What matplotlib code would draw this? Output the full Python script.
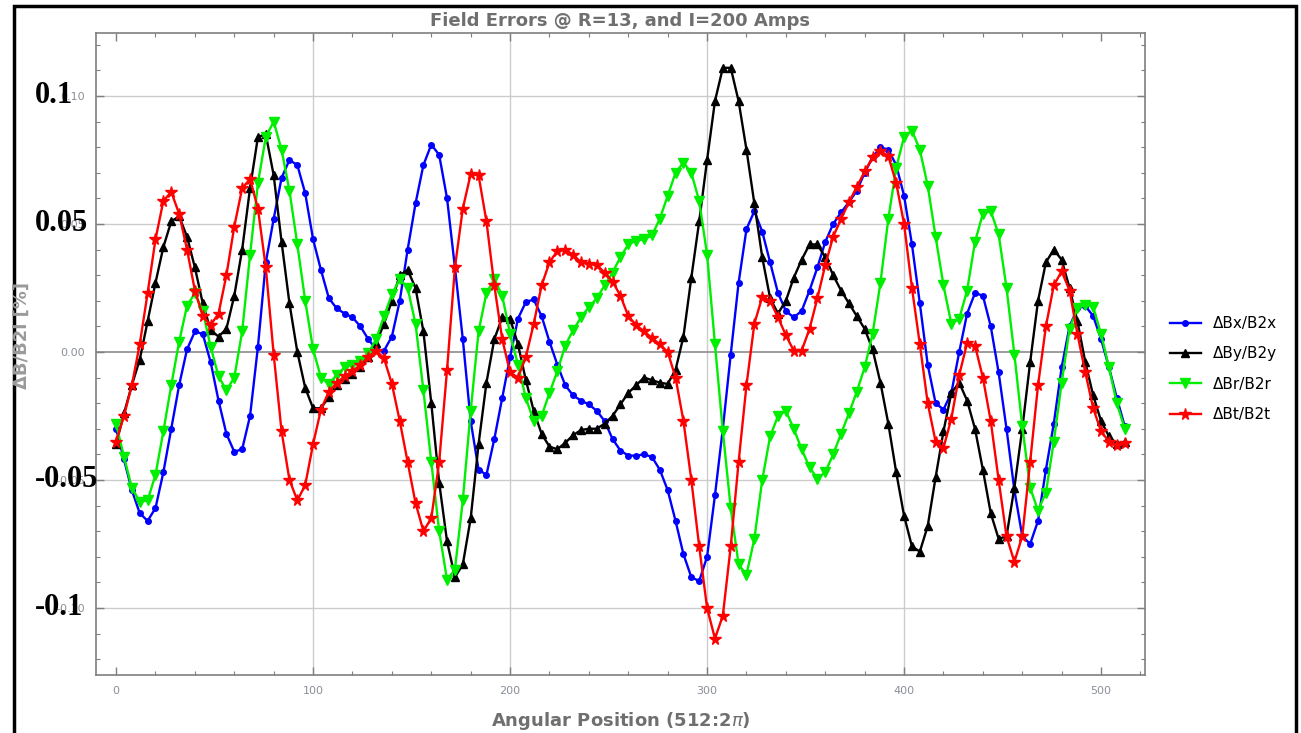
import numpy as np
import matplotlib.pyplot as plt
from matplotlib.patches import Rectangle
from matplotlib.ticker import MultipleLocator
from matplotlib.transforms import blended_transform_factory

# angular position samples (512 steps per turn), every 4th step
pos = np.arange(0, 513, 4)

# field errors in units of 0.01 %
dBx = [-3.0, -4.2, -5.4, -6.3, -6.6, -6.1, -4.7, -3.0,
       -1.3, 0.1, 0.8, 0.7, -0.4, -1.9, -3.2, -3.9,
       -3.8, -2.5, 0.2, 3.5, 5.2, 6.8, 7.5, 7.3,
       6.2, 4.4, 3.2, 2.1, 1.7, 1.5, 1.35, 1.0,
       0.5, 0.1, 0.05, 0.6, 2.0, 4.0, 5.8, 7.3,
       8.1, 7.7, 6.0, 3.3, 0.5, -2.7, -4.6, -4.8,
       -3.4, -1.8, -0.2, 1.3, 1.95, 2.05, 1.4, 0.4,
       -0.5, -1.3, -1.7, -1.9, -2.05, -2.3, -2.7, -3.4,
       -3.85, -4.05, -4.05, -4.0, -4.1, -4.6, -5.4, -6.6,
       -7.9, -8.8, -8.95, -8.0, -5.6, -3.0, -0.1, 2.7,
       4.8, 5.5, 4.7, 3.5, 2.3, 1.6, 1.35, 1.6,
       2.4, 3.3, 4.3, 5.0, 5.45, 5.85, 6.3, 7.0,
       7.6, 8.0, 7.9, 7.3, 6.1, 4.2, 1.9, -0.5,
       -2.0, -2.25, -1.6, 0.0, 1.5, 2.3, 2.2, 1.0,
       -0.8, -3.0, -5.4, -7.2, -7.5, -6.6, -4.6, -2.8,
       -0.6, 1.0, 1.7, 1.8, 1.4, 0.5, -0.6, -1.8,
       -2.9]

dBy = [-3.6, -2.4, -1.3, -0.3, 1.2, 2.7, 4.1, 5.1,
       5.3, 4.5, 3.3, 1.9, 0.85, 0.6, 0.9, 2.2,
       4.0, 6.4, 8.4, 8.5, 6.9, 4.3, 1.9, 0.0,
       -1.4, -2.2, -2.2, -1.75, -1.3, -1.05, -0.85, -0.6,
       -0.2, 0.35, 1.1, 2.0, 3.0, 3.2, 2.5, 0.8,
       -2.0, -5.1, -7.4, -8.8, -8.3, -6.5, -3.6, -1.2,
       0.5, 1.35, 1.3, 0.3, -1.1, -2.3, -3.2, -3.7,
       -3.8, -3.55, -3.25, -3.05, -3.0, -3.0, -2.8, -2.5,
       -2.05, -1.6, -1.3, -1.0, -1.1, -1.2, -1.25, -0.7,
       0.6, 2.9, 5.1, 7.5, 9.8, 11.1, 11.1, 9.8,
       7.9, 5.8, 3.7, 2.1, 1.5, 2.0, 2.9, 3.6,
       4.2, 4.2, 3.7, 3.0, 2.4, 1.9, 1.4, 0.9,
       0.1, -1.2, -2.8, -4.7, -6.4, -7.6, -7.8, -6.8,
       -4.9, -3.1, -1.6, -1.2, -1.9, -3.0, -4.6, -6.3,
       -7.3, -7.2, -5.3, -3.0, -0.4, 2.0, 3.5, 4.0,
       3.6, 2.5, 1.2, -0.4, -1.7, -2.7, -3.3, -3.6,
       -3.5]

dBr = [-2.8, -4.1, -5.3, -5.85, -5.8, -4.8, -3.1, -1.3,
       0.4, 1.8, 2.3, 1.6, 0.2, -0.95, -1.5, -1.0,
       0.8, 3.8, 6.6, 8.4, 9.0, 7.9, 6.3, 4.2,
       2.0, 0.1, -1.0, -1.25, -0.9, -0.6, -0.5, -0.35,
       -0.05, 0.5, 1.4, 2.25, 2.85, 2.5, 1.1, -1.5,
       -4.3, -7.0, -8.9, -8.5, -5.8, -2.3, 0.8, 2.3,
       2.85, 2.2, 0.7, -0.5, -1.8, -2.7, -2.5, -1.6,
       -0.75, 0.25, 0.85, 1.35, 1.75, 2.1, 2.6, 3.1,
       3.7, 4.2, 4.35, 4.4, 4.55, 5.2, 6.1, 7.0,
       7.4, 7.0, 5.9, 3.8, 0.3, -3.1, -6.1, -8.3,
       -8.7, -7.3, -5.0, -3.3, -2.5, -2.3, -3.0, -3.8,
       -4.5, -4.95, -4.7, -4.0, -3.2, -2.4, -1.55, -0.6,
       0.7, 2.7, 5.2, 7.2, 8.4, 8.65, 7.9, 6.5,
       4.5, 2.6, 1.1, 1.3, 2.4, 4.3, 5.4, 5.5,
       4.6, 2.5, -0.1, -2.9, -5.3, -6.2, -5.5, -3.5,
       -1.2, 0.9, 1.7, 1.85, 1.75, 0.7, -0.6, -2.0,
       -3.0]

dBt = [-3.5, -2.5, -1.3, 0.3, 2.3, 4.4, 5.9, 6.25,
       5.4, 4.0, 2.4, 1.4, 1.05, 1.5, 3.0, 4.9,
       6.4, 6.75, 5.6, 3.3, -0.1, -3.1, -5.0, -5.8,
       -5.2, -3.6, -2.25, -1.55, -1.2, -0.95, -0.75, -0.5,
       -0.2, 0.05, -0.25, -1.25, -2.7, -4.3, -5.9, -7.0,
       -6.5, -4.3, -0.7, 3.3, 5.6, 6.95, 6.9, 5.1,
       2.6, 0.5, -0.8, -1.0, -0.2, 1.1, 2.6, 3.5,
       3.95, 4.0, 3.8, 3.5, 3.45, 3.4, 3.1, 2.75,
       2.2, 1.4, 1.05, 0.8, 0.55, 0.3, 0.0, -1.0,
       -2.7, -5.0, -7.6, -10.0, -11.2, -10.3, -7.6, -4.3,
       -1.3, 1.1, 2.15, 2.0, 1.35, 0.65, 0.05, 0.05,
       0.9, 2.1, 3.4, 4.5, 5.2, 5.85, 6.45, 7.05,
       7.6, 7.85, 7.65, 6.6, 5.0, 2.5, 0.3, -2.0,
       -3.5, -3.75, -2.6, -0.9, 0.35, 0.25, -1.0, -2.7,
       -5.0, -7.2, -8.2, -7.2, -4.3, -1.3, 1.0, 2.6,
       3.15, 2.4, 0.7, -0.8, -2.2, -3.1, -3.5, -3.65,
       -3.55]

labels = ["\u0394Bx/B2x", "\u0394By/B2y", "\u0394Br/B2r", "\u0394Bt/B2t"]
colors = ["#0000ff", "#000000", "#00ee00", "#ff0000"]
markers = ["o", "^", "v", "*"]
msizes = [4, 5.5, 6.5, 8.5]

yticks = [0.10, 0.05, 0.0, -0.05, -0.10]
ytick_text = ["0.10", "0.05", "0.00", "-0.05", "-0.10"]
# bold labels written over the axis
big_labels = ["0.1", "0.05", "-0.05", "-0.1"]
big_pos = [0.10, 0.05, -0.05, -0.10]

gray = "#6f6f6f"
tickgray = "#8a8f98"

fig = plt.figure(figsize=(13.01, 7.33), dpi=100)
ax = fig.add_axes([96/1301, 1-675/733, (1145-96)/1301, (675-33)/733])

for x in [100, 200, 300, 400]:
    ax.axvline(x, color="#cccccc", lw=1, zorder=0)
for y in [0.10, 0.05, -0.05, -0.10]:
    ax.axhline(y, color="#cccccc", lw=1, zorder=0)
ax.axhline(0, color="#8c8c8c", lw=1.2, zorder=0)

for data, lab, c, m, ms in zip([dBx, dBy, dBr, dBt], labels, colors, markers, msizes):
    ax.plot(pos, np.array(data) / 100, color=c, lw=1.7, marker=m, ms=ms,
            mec=c, mfc=c, label=lab)

ax.set_xlim(-10.2, 522.3)
ax.set_ylim(-0.1262, 0.1246)
ax.set_xticks([0, 100, 200, 300, 400, 500])
ax.xaxis.set_minor_locator(MultipleLocator(20))
ax.set_yticks(yticks)
ax.set_yticklabels(ytick_text)
ax.yaxis.set_minor_locator(MultipleLocator(0.01))
ax.tick_params(which="both", direction="in", top=True, right=True,
               color="#7f7f7f", labelcolor=tickgray, labelsize=8)
ax.tick_params(which="major", length=6, width=1)
ax.tick_params(which="minor", length=3, width=0.8)
ax.tick_params(axis="x", pad=8)
ax.tick_params(axis="y", pad=8)
for s in ax.spines.values():
    s.set_color("#7f7f7f")
    s.set_linewidth(1.2)

ax.set_title("Field Errors @ R=13, and I=200 Amps", fontsize=13,
             fontweight="bold", color=gray, pad=5)
ax.set_xlabel("Angular Position (512:2$\\pi$)", fontsize=13,
              fontweight="bold", color=gray, labelpad=10)
fig.text(22/1301, 1-335/733, "\u0394B/B2l [%]", rotation=90, fontsize=13,
         fontweight="bold", color="#9a9a9a", ha="center", va="center")

big_tr = blended_transform_factory(fig.transFigure, ax.transData)
for t, v in zip(big_labels, big_pos):
    ax.text(35/1301, v, t, transform=big_tr, fontsize=22, fontweight="bold",
            family="Liberation Serif", color="black", ha="left", va="center")

ax.legend(loc="center left", bbox_to_anchor=(1170/1301, 1-369/733),
          bbox_transform=fig.transFigure, frameon=False, fontsize=11,
          handlelength=2.0, borderpad=0, borderaxespad=0, labelspacing=1.0,
          handletextpad=0.8)

fig.patches.append(Rectangle((14/1301, -0.05), (1296-14)/1301, 1.05-6/733,
                             transform=fig.transFigure, fill=False,
                             edgecolor="black", lw=2.5))

fig.savefig("out.png", dpi=100)
